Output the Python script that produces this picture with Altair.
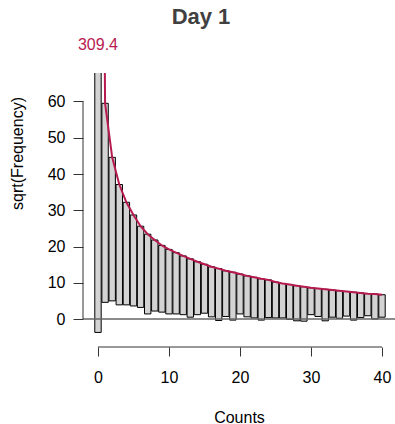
import altair as alt
import pandas as pd

# ---- data (square-root scale) ----
counts = list(range(41))
expected_sqrt = [309.4, 59.5, 44.6, 37.1, 32.2, 28.7, 25.6, 23.4, 21.8, 20.3,
                 19.2, 18.3, 17.4, 16.6, 15.8, 15.1, 14.4, 13.9, 13.3, 12.9,
                 12.4, 11.9, 11.5, 11.1, 10.8, 10.2, 9.8, 9.5, 9.2, 8.9,
                 8.6, 8.4, 8.2, 8.0, 7.8, 7.6, 7.4, 7.2, 7.0, 6.9, 6.7]
observed_sqrt = [313.1, 54.9, 39.6, 33.2, 28.3, 25.1, 22.4, 22.0, 19.6, 18.4,
                 17.8, 16.9, 16.2, 16.1, 14.6, 13.5, 13.8, 14.3, 12.6, 13.2,
                 11.0, 11.3, 11.2, 11.4, 10.4, 9.9, 9.5, 9.6, 9.7, 9.5,
                 7.4, 7.7, 8.7, 7.5, 7.6, 6.8, 7.7, 6.8, 6.1, 6.9, 6.2]
x_ticks = [0, 10, 20, 30, 40]
y_ticks = [0, 10, 20, 30, 40, 50, 60]
title_text = "Day 1"
x_title = "Counts"
y_title = "sqrt(Frequency)"

df = pd.DataFrame({"count": counts, "expected": expected_sqrt, "observed": observed_sqrt})
one = pd.DataFrame({"t": [title_text]})

RED = "#B61A51"
FONT = "Liberation Sans"
W, H = 312, 274

xs = alt.Scale(domain=[-2.11, 41.83], nice=False, zero=False)
ys = alt.Scale(domain=[-7.72, 67.86], nice=False, zero=False)

x_axis = alt.Axis(values=x_ticks, domain=False, grid=False, tickSize=9, tickColor="#333",
                  labelFontSize=16, labelFont=FONT, labelColor="black", labelPadding=13,
                  labelFlush=False, title=x_title, titleFont=FONT, titleFontSize=16,
                  titleFontWeight="normal", titleColor="black", titleX=W / 2, titleY=70,
                  titleBaseline="middle", format="d")
y_axis = alt.Axis(values=y_ticks, domain=False, grid=False, tickSize=10, tickColor="#333",
                  labelFontSize=16, labelFont=FONT, labelColor="black", labelPadding=8,
                  labelFlush=False, title=y_title, titleFont=FONT, titleFontSize=16,
                  titleFontWeight="normal", titleColor="black", titleX=-66, titleY=80,
                  titleBaseline="middle", format="d")

base = alt.Chart(df)

bars = base.transform_calculate(
    x1="datum.count - 0.45",
    x2="datum.count + 0.45",
    bottom="datum.expected - datum.observed",
).mark_bar(fill="#d3d3d3", stroke="black", strokeWidth=1, clip=True).encode(
    x=alt.X("x1:Q", scale=xs, axis=x_axis),
    x2="x2:Q",
    y=alt.Y("bottom:Q", scale=ys, axis=y_axis),
    y2="expected:Q",
)

zero_line = alt.Chart(one).mark_rule(color="#666", strokeWidth=1.5).encode(
    y=alt.datum(0), x=alt.value(0), x2=alt.value(W)
)

curve = base.mark_line(color=RED, strokeWidth=2, clip=True).encode(
    x=alt.X("count:Q"), y=alt.Y("expected:Q")
)

x_line = alt.Chart(one).mark_rule(color="#333", strokeWidth=1).encode(
    x=alt.datum(0), x2=alt.datum(40), y=alt.value(H)
)
y_line = alt.Chart(one).mark_rule(color="#333", strokeWidth=1).encode(
    y=alt.datum(0), y2=alt.datum(60), x=alt.value(0)
)

top_label = base.transform_filter("datum.count == 0").mark_text(
    color=RED, fontSize=16, font=FONT
).encode(x=alt.X("count:Q"), y=alt.value(-28), text=alt.Text("expected:Q", format=".1f"))

title = alt.Chart(one).mark_text(
    fontSize=22, fontWeight="bold", font=FONT, color="#404040"
).encode(x=alt.value(118), y=alt.value(-56), text="t:N")

chart = alt.layer(bars, zero_line, curve, x_line, y_line, top_label, title).properties(
    width=W, height=H,
    autosize=alt.AutoSizeParams(type="none"),
    padding={"left": 83, "top": 73, "right": 0, "bottom": 77},
).configure_view(stroke=None)

chart.save("out.html", embed_options={"renderer": "svg", "actions": False})
